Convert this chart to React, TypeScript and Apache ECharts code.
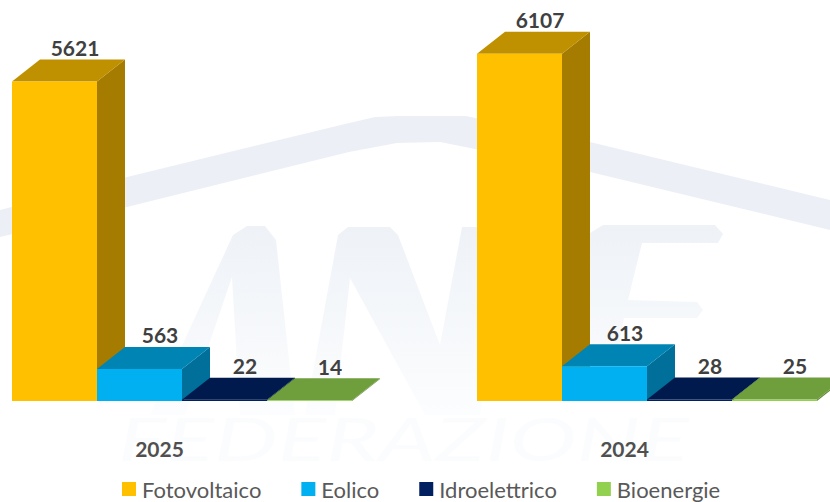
import React, { useEffect, useRef } from "react";
import * as echarts from "echarts";

const years = ["2025", "2024"];
const sourceNames = ["Fotovoltaico", "Eolico", "Idroelettrico", "Bioenergie"];
const fotovoltaico = [5621, 6107];
const eolico = [563, 613];
const idroelettrico = [22, 28];
const bioenergie = [14, 25];
const seriesValues = [fotovoltaico, eolico, idroelettrico, bioenergie];

const frontColors = ["#FFC000", "#00B0F0", "#002060", "#92D050"];
const topColors = ["#BF9000", "#0084B4", "#001A4D", "#6F9E3C"];
const sideColors = ["#A57C00", "#006F9A", "#00153F", "#5F8733"];

const FONT = "Lato, Carlito, 'Open Sans', sans-serif";
const BAND_RATIO = 85 / 465;
const DEPTH_X = 28;
const DEPTH_Y = 22;
const GROUP_SHIFT = 22.5;

function bar3d(seriesIndex: number) {
  return (_params: any, api: any) => {
    const cat = api.value(0);
    const val = api.value(1);
    const center = api.coord([cat, 0]);
    const top = api.coord([cat, val]);
    const w = api.size([1, 0])[0] * BAND_RATIO;
    const x0 = center[0] + GROUP_SHIFT - 2 * w + seriesIndex * w;
    const x1 = x0 + w;
    const yb = center[1];
    const yt = top[1];
    const dx = DEPTH_X;
    const dy = DEPTH_Y;
    const children: any[] = [
      {
        type: "polygon",
        shape: { points: [[x1, yb], [x1 + dx, yb - dy], [x1 + dx, yt - dy], [x1, yt]] },
        style: { fill: sideColors[seriesIndex] },
      },
      {
        type: "polygon",
        shape: { points: [[x0, yt], [x0 + dx, yt - dy], [x1 + dx, yt - dy], [x1, yt]] },
        style: { fill: topColors[seriesIndex] },
      },
      {
        type: "rect",
        shape: { x: x0, y: yt, width: w, height: yb - yt },
        style: { fill: frontColors[seriesIndex] },
      },
      {
        type: "text",
        style: {
          text: String(val),
          x: x0 + w / 2 + 20.5,
          y: yt - dy - 12,
          align: "center",
          verticalAlign: "middle",
          font: `bold 21px ${FONT}`,
          fill: "#404040",
        },
      },
    ];
    return { type: "group", children };
  };
}

export default function App() {
  const ref = useRef<HTMLDivElement>(null);

  useEffect(() => {
    if (!ref.current) return;
    const chart = echarts.init(ref.current, undefined, { renderer: "svg" });
    const letterFill = new echarts.graphic.LinearGradient(0, 0, 0, 1, [
      { offset: 0, color: "#eef2f7" },
      { offset: 1, color: "#fcfdfe" },
    ]);
    chart.setOption({
      animation: false,
      backgroundColor: "#ffffff",
      graphic: [
        {
          type: "polygon",
          z: -1,
          shape: {
            points: [
              [0, 210], [127, 177], [349, 123], [375, 117], [397, 116], [466, 116], [590, 142], [830, 200],
              [830, 230], [590, 172], [440, 142], [397, 143], [349, 152], [127, 207], [0, 237],
            ],
          },
          style: { fill: "#ecf0f6" },
        },
        {
          type: "polygon",
          z: -1,
          shape: {
            points: [
              [150, 415], [233, 235], [247, 226], [265, 226], [276, 240], [295, 415], [240, 415], [232, 277], [185, 415],
            ],
          },
          style: { fill: letterFill },
        },
        {
          type: "polygon",
          z: -1,
          shape: {
            points: [
              [305, 415], [338, 235], [348, 227], [390, 227], [398, 235], [440, 345], [462, 227], [510, 227],
              [480, 415], [425, 415], [350, 278], [335, 415],
            ],
          },
          style: { fill: letterFill },
        },
        {
          type: "polygon",
          z: -1,
          shape: {
            points: [
              [603, 225], [715, 225], [723, 234], [718, 243], [642, 243], [628, 300], [697, 302], [703, 310],
              [697, 318], [624, 318], [612, 385], [690, 385], [690, 402], [568, 402], [590, 233],
            ],
          },
          style: { fill: letterFill },
        },
        {
          type: "text",
          z: -1,
          x: 118,
          y: 438,
          scaleX: 1.5,
          style: {
            text: "FEDERAZIONE",
            font: `italic 60px ${FONT}`,
            fill: "#fbfcfd",
            verticalAlign: "middle",
          },
        },
      ],
      grid: { left: 0, right: 0, top: 3, bottom: 101, containLabel: false },
      xAxis: {
        type: "value",
        min: -159.5 / 465,
        max: (830 - 159.5) / 465,
        axisLine: { show: false },
        axisTick: { show: false },
        splitLine: { show: false },
        axisLabel: {
          customValues: years.map((_, i) => i),
          formatter: (v: number) => years[Math.round(v)],
          margin: 37,
          fontFamily: FONT,
          fontWeight: "bold",
          fontSize: 21,
          color: "#505050",
        },
      },
      yAxis: { type: "value", min: 0, max: 7000, show: false, splitLine: { show: false } },
      legend: {
        show: true,
        left: 122,
        top: 478,
        itemWidth: 14,
        itemHeight: 14,
        itemGap: 40,
        icon: "rect",
        data: sourceNames,
        textStyle: { fontFamily: FONT, fontSize: 22, color: "#595959", padding: [0, 0, 0, 1] },
        padding: 0,
      },
      series: seriesValues.map((vals, i) => ({
        type: "custom",
        name: sourceNames[i],
        coordinateSystem: "cartesian2d",
        clip: false,
        itemStyle: { color: frontColors[i] },
        encode: { x: 0, y: 1 },
        data: vals.map((v, c) => [c, v]),
        renderItem: bar3d(i),
      })),
    });
    return () => chart.dispose();
  }, []);

  return (
    <div
      ref={ref}
      style={{ position: "absolute", left: 0, top: 0, width: 830, height: 502 }}
    />
  );
}
